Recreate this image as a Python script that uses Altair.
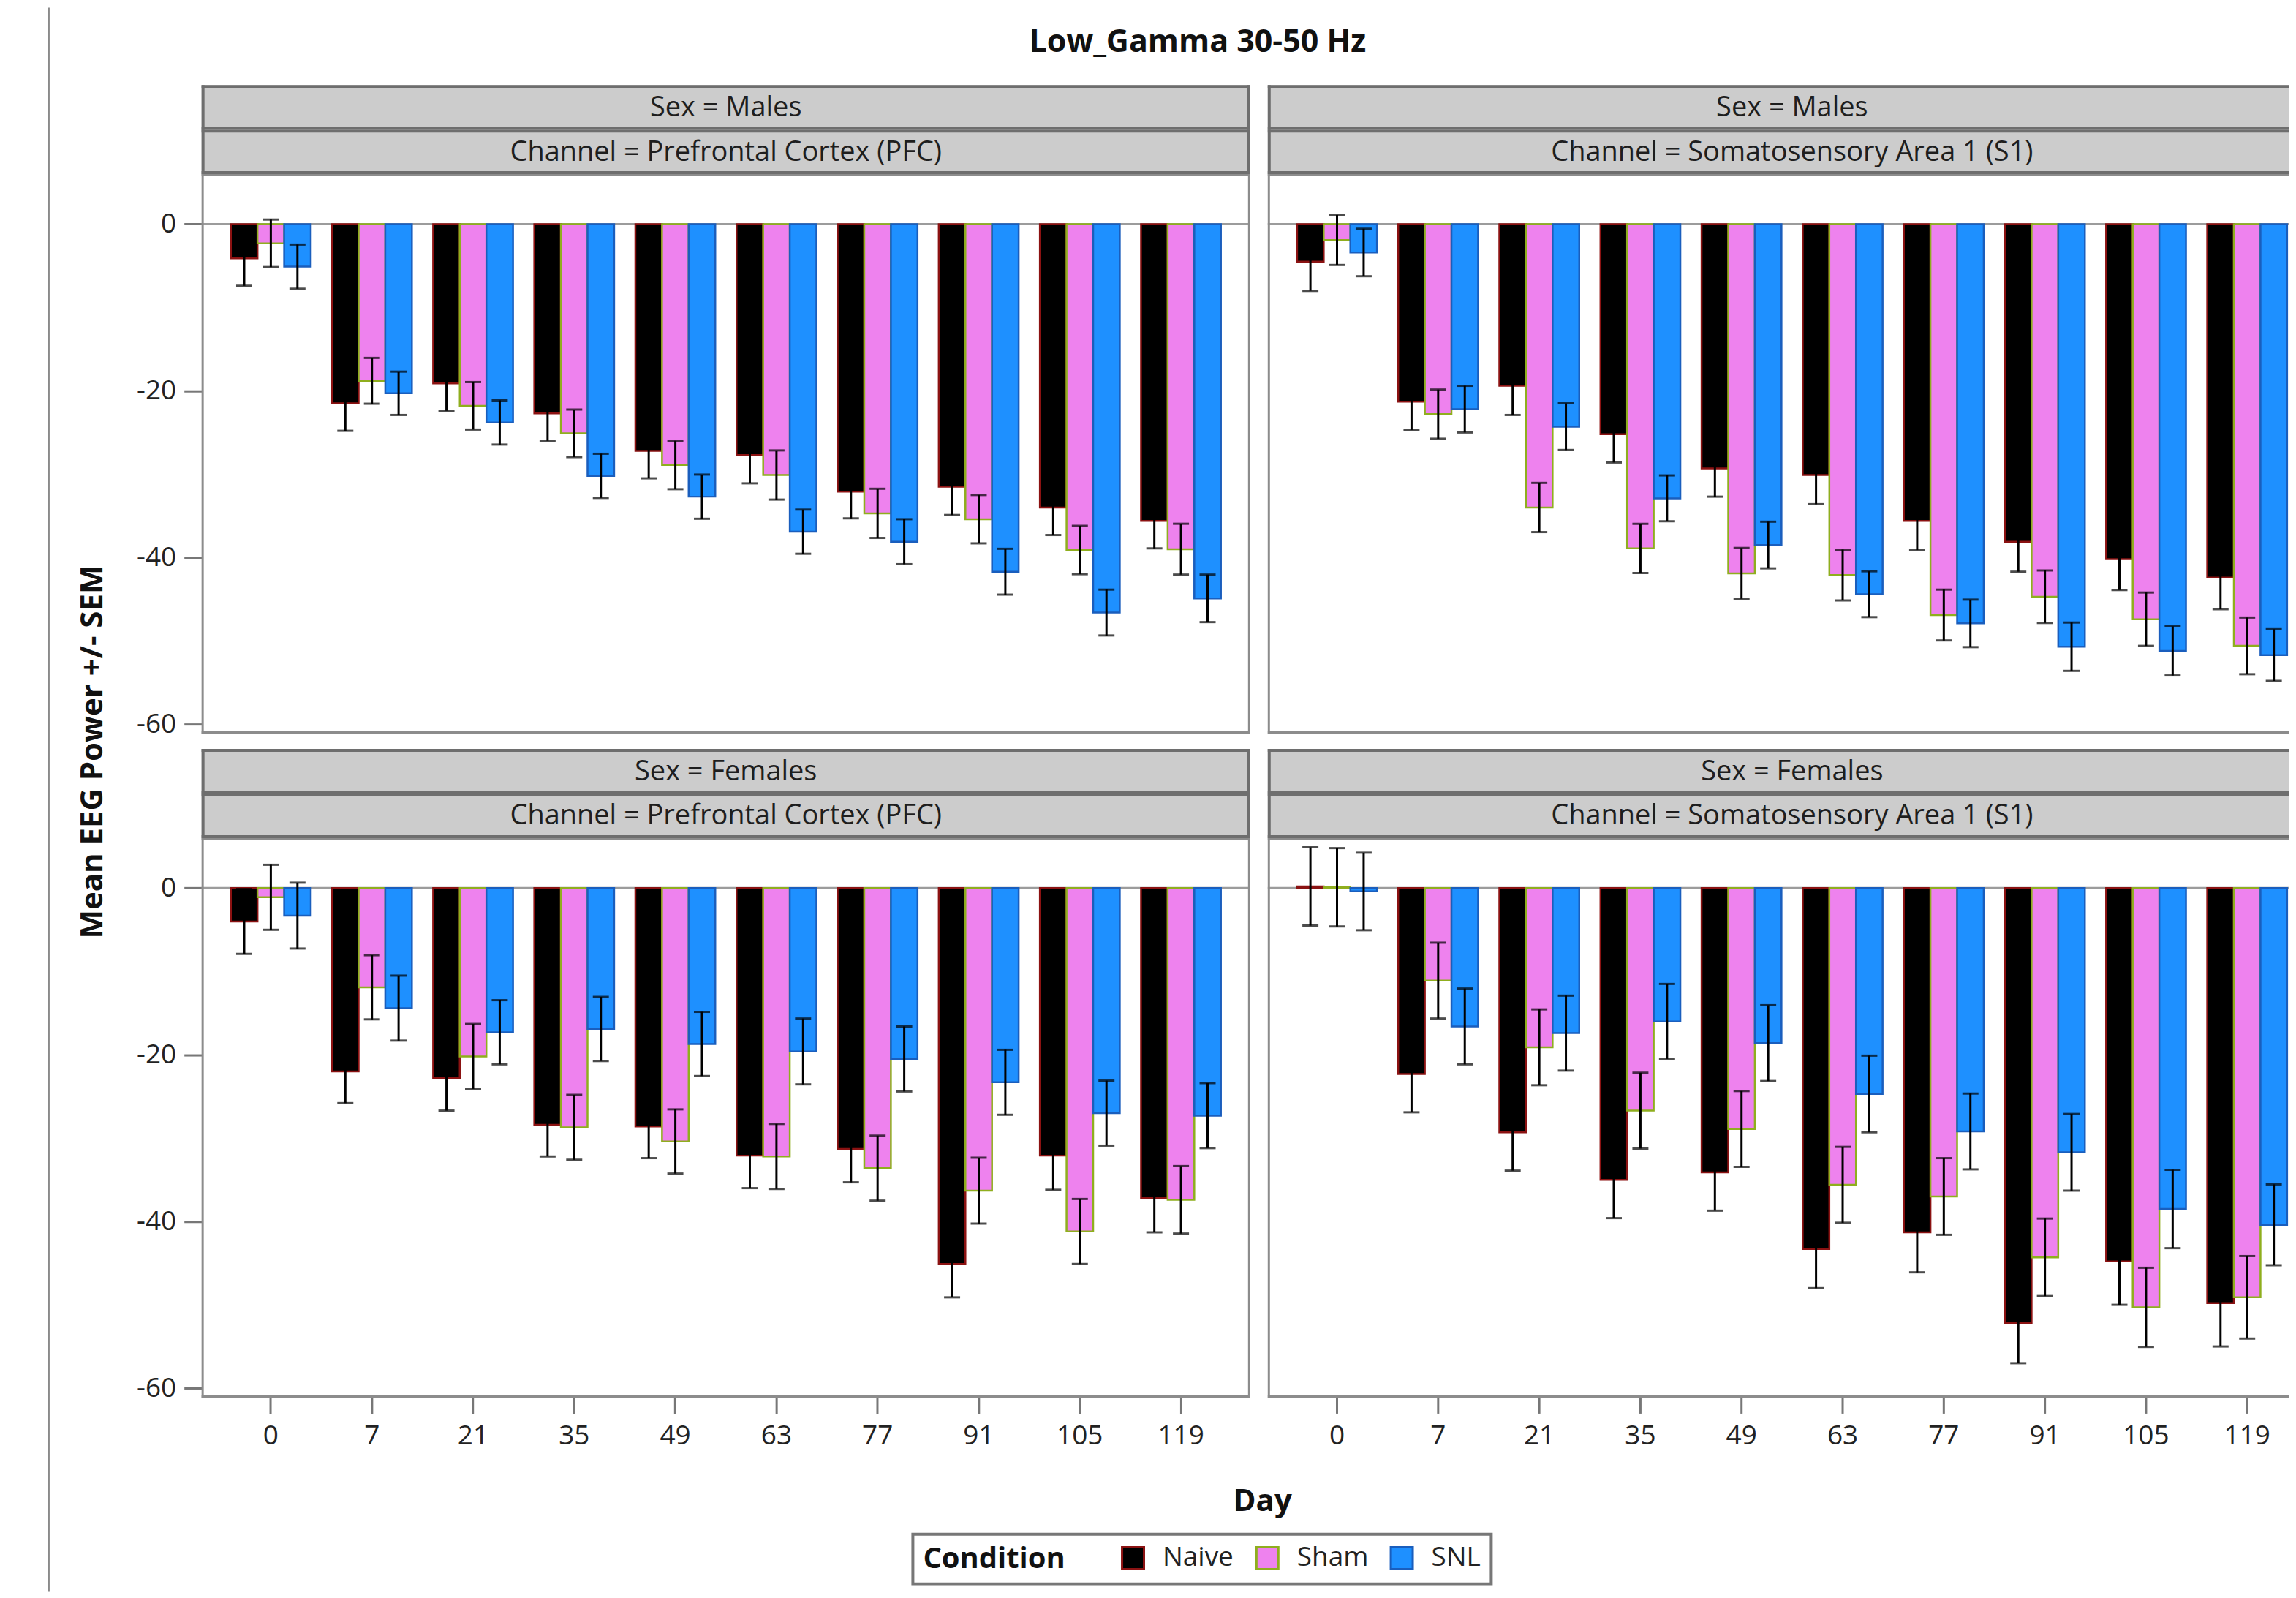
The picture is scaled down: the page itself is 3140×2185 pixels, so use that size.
import altair as alt
import pandas as pd

days = [0, 7, 21, 35, 49, 63, 77, 91, 105, 119]
conditions = ["Naive", "Sham", "SNL"]
fill_colors = ["#000000", "#EE82EE", "#1E90FF"]
stroke_colors = ["#8B1212", "#8FAE1E", "#1A5EBD"]

# Males, Prefrontal Cortex (PFC)
m_pfc_naive = [-4.1, -21.5, -19.1, -22.7, -27.2, -27.7, -32.1, -31.5, -34.0, -35.6]
m_pfc_naive_sem = [3.3, 3.3, 3.3, 3.3, 3.3, 3.4, 3.2, 3.4, 3.3, 3.3]
m_pfc_sham = [-2.3, -18.8, -21.8, -25.1, -28.9, -30.1, -34.7, -35.4, -39.1, -39.0]
m_pfc_sham_sem = [2.85, 2.75, 2.85, 2.85, 2.9, 2.95, 2.95, 2.9, 2.9, 3.05]
m_pfc_snl = [-5.1, -20.3, -23.8, -30.2, -32.7, -36.9, -38.1, -41.7, -46.6, -44.9]
m_pfc_snl_sem = [2.65, 2.6, 2.65, 2.65, 2.65, 2.65, 2.7, 2.75, 2.75, 2.85]

# Males, Somatosensory Area 1 (S1)
m_s1_naive = [-4.5, -21.3, -19.4, -25.2, -29.3, -30.1, -35.6, -38.1, -40.2, -42.4]
m_s1_naive_sem = [3.5, 3.4, 3.5, 3.4, 3.4, 3.5, 3.5, 3.6, 3.7, 3.8]
m_s1_sham = [-1.9, -22.8, -34.0, -38.9, -41.9, -42.1, -46.9, -44.7, -47.4, -50.6]
m_s1_sham_sem = [3.0, 2.95, 2.95, 2.95, 3.05, 3.05, 3.05, 3.15, 3.2, 3.4]
m_s1_snl = [-3.4, -22.2, -24.3, -32.9, -38.5, -44.4, -47.9, -50.7, -51.2, -51.7]
m_s1_snl_sem = [2.85, 2.8, 2.8, 2.75, 2.8, 2.75, 2.85, 2.9, 2.95, 3.1]

# Females, Prefrontal Cortex (PFC)
f_pfc_naive = [-4.0, -22.0, -22.8, -28.4, -28.6, -32.1, -31.3, -45.1, -32.1, -37.2]
f_pfc_naive_sem = [3.9, 3.8, 3.9, 3.8, 3.8, 3.9, 4.0, 4.0, 4.1, 4.1]
f_pfc_sham = [-1.1, -11.9, -20.2, -28.7, -30.4, -32.2, -33.6, -36.3, -41.2, -37.4]
f_pfc_sham_sem = [3.9, 3.85, 3.9, 3.9, 3.85, 3.9, 3.9, 3.95, 3.9, 4.05]
f_pfc_snl = [-3.3, -14.4, -17.3, -16.9, -18.7, -19.6, -20.5, -23.3, -27.0, -27.3]
f_pfc_snl_sem = [3.95, 3.9, 3.85, 3.85, 3.85, 3.95, 3.9, 3.9, 3.9, 3.9]

# Females, Somatosensory Area 1 (S1)
f_s1_naive = [0.2, -22.3, -29.3, -35.0, -34.1, -43.3, -41.3, -52.2, -44.8, -49.8]
f_s1_naive_sem = [4.7, 4.6, 4.6, 4.6, 4.6, 4.7, 4.8, 4.8, 5.2, 5.2]
f_s1_sham = [0.1, -11.1, -19.1, -26.7, -28.9, -35.6, -37.0, -44.3, -50.3, -49.1]
f_s1_sham_sem = [4.7, 4.55, 4.55, 4.55, 4.55, 4.55, 4.6, 4.65, 4.75, 4.95]
f_s1_snl = [-0.4, -16.6, -17.4, -16.0, -18.6, -24.7, -29.2, -31.7, -38.5, -40.4]
f_s1_snl_sem = [4.65, 4.55, 4.5, 4.5, 4.55, 4.6, 4.55, 4.6, 4.7, 4.85]

chart_title = "Low_Gamma 30-50 Hz"

FONT = "Open Sans"
W, H, SH = 1436, 766, 61     # full panel width, plot height, strip height
COL_GAP = 20
W_CUT = 1398                 # right-hand panels are cut off by the picture edge
ONE = pd.DataFrame({"k": [0]})
TICK_LEN, LABEL_PAD, LABEL_SIZE = 22, 13, 37


def border(vw, vh, color, sw, right):
    h = sw / 2
    r = alt.Chart(ONE).mark_rule(color=color, strokeWidth=sw)
    parts = [
        r.encode(x=alt.value(0), x2=alt.value(vw), y=alt.value(h)),
        r.encode(x=alt.value(0), x2=alt.value(vw), y=alt.value(vh - h)),
        r.encode(x=alt.value(h), y=alt.value(0), y2=alt.value(vh)),
    ]
    if right:
        parts.append(r.encode(x=alt.value(vw - h), y=alt.value(0), y2=alt.value(vh)))
    return parts


def panel_df(series):
    rows = []
    for cond, (means, sems) in zip(conditions, series):
        for d, m, s in zip(days, means, sems):
            rows.append({"Day": d, "Condition": cond, "mean": m, "lo": m - s, "hi": m + s})
    return pd.DataFrame(rows)


def strip(label, vw, right):
    one = alt.Chart(pd.DataFrame({"t": [label]}))
    box = one.mark_rect(fill="#cccccc").encode(
        x=alt.value(0), x2=alt.value(vw), y=alt.value(0), y2=alt.value(SH)
    )
    txt = one.mark_text(font=FONT, fontSize=38, color="#1e1e1e").encode(
        text="t:N", x=alt.value(W / 2), y=alt.value(SH / 2 + 1)
    )
    return alt.layer(box, *border(vw, SH, "#6e6e6e", 4, right), txt).properties(width=vw, height=SH)


fill_scale = alt.Scale(domain=conditions, range=fill_colors)
stroke_scale = alt.Scale(domain=conditions, range=stroke_colors)
legend = alt.Legend(
    title="Condition", orient="none", legendX=1183, legendY=2062,
    direction="horizontal", titleOrient="left", titleLimit=400,
)
yscale = alt.Scale(domain=[-61.13, 6.0], nice=False, zero=False)
xscale = alt.Scale(domain=days, range=[0, W], paddingInner=0.21, paddingOuter=0.29)


def plot(df, left, bottom, vw):
    yaxis = alt.Axis(
        values=[0, -20, -40, -60], tickSize=24, tickWidth=3, tickColor="#777777",
        labelFont=FONT, labelFontSize=LABEL_SIZE, labelColor="#222222", labelPadding=11,
        labelExpr="'' + datum.value",
        domain=False, grid=False, title=None,
    ) if left else None
    # the left panel uses a real axis; the cut-off right panel draws the same ticks as marks
    xaxis = alt.Axis(
        values=days, tickSize=TICK_LEN, tickWidth=3, tickColor="#777777", labelAngle=0,
        labelFont=FONT, labelFontSize=LABEL_SIZE, labelColor="#222222", labelPadding=LABEL_PAD,
        domain=False, grid=False, title=None,
    ) if (bottom and left) else None
    x = alt.X("Day:O", scale=xscale, axis=xaxis, title=None)
    xo = alt.XOffset("Condition:N", scale=alt.Scale(domain=conditions, paddingInner=0, paddingOuter=0))
    base = alt.Chart(df)
    zero = alt.Chart(pd.DataFrame({"z": [0]})).mark_rule(color="#9c9c9c", strokeWidth=3).encode(
        y=alt.Y("z:Q", scale=yscale, axis=yaxis, title=None)
    )
    bars = base.mark_bar(strokeWidth=2.5).encode(
        x=x, xOffset=xo,
        y=alt.Y("mean:Q", scale=yscale, axis=yaxis, title=None),
        fill=alt.Fill("Condition:N", scale=fill_scale, legend=legend),
        stroke=alt.Stroke("Condition:N", scale=stroke_scale, legend=legend),
    )
    err = base.mark_rule(color="black", strokeWidth=3).encode(
        x=x, xOffset=xo,
        y=alt.Y("lo:Q", scale=yscale, axis=yaxis, title=None), y2="hi:Q",
    )
    cap_lo = base.mark_tick(color="black", thickness=3, size=22).encode(
        x=x, xOffset=xo, y=alt.Y("lo:Q", scale=yscale, axis=yaxis, title=None)
    )
    cap_hi = base.mark_tick(color="black", thickness=3, size=22).encode(
        x=x, xOffset=xo, y=alt.Y("hi:Q", scale=yscale, axis=yaxis, title=None)
    )
    layers = [zero, bars, err, cap_lo, cap_hi, *border(vw, H, "#8c8c8c", 3, left)]
    if bottom and not left:
        tick_src = alt.Chart(pd.DataFrame({"Day": days}))
        layers.append(tick_src.mark_rule(color="#777777", strokeWidth=3).encode(
            x=alt.X("Day:O", scale=xscale, axis=None, title=None),
            y=alt.value(H), y2=alt.value(H + TICK_LEN),
        ))
        layers.append(tick_src.mark_text(
            font=FONT, fontSize=LABEL_SIZE, color="#222222", baseline="top"
        ).encode(
            x=alt.X("Day:O", scale=xscale, axis=None, title=None),
            y=alt.value(H + TICK_LEN + LABEL_PAD), text="Day:N",
        ))
    return alt.layer(*layers).properties(width=vw, height=H)


def panel(sex, channel, series, left, bottom):
    vw = W if left else W_CUT
    return alt.vconcat(
        strip(f"Sex = {sex}", vw, left),
        strip(f"Channel = {channel}", vw, left),
        plot(panel_df(series), left, bottom, vw),
        spacing=0, bounds="flush",
    )


p11 = panel("Males", "Prefrontal Cortex (PFC)",
            [(m_pfc_naive, m_pfc_naive_sem), (m_pfc_sham, m_pfc_sham_sem), (m_pfc_snl, m_pfc_snl_sem)],
            True, False)
p12 = panel("Males", "Somatosensory Area 1 (S1)",
            [(m_s1_naive, m_s1_naive_sem), (m_s1_sham, m_s1_sham_sem), (m_s1_snl, m_s1_snl_sem)],
            False, False)
p21 = panel("Females", "Prefrontal Cortex (PFC)",
            [(f_pfc_naive, f_pfc_naive_sem), (f_pfc_sham, f_pfc_sham_sem), (f_pfc_snl, f_pfc_snl_sem)],
            True, True)
p22 = panel("Females", "Somatosensory Area 1 (S1)",
            [(f_s1_naive, f_s1_naive_sem), (f_s1_sham, f_s1_sham_sem), (f_s1_snl, f_s1_snl_sem)],
            False, True)

grid = alt.vconcat(
    alt.hconcat(p11, p12, spacing=COL_GAP),
    alt.hconcat(p21, p22, spacing=COL_GAP),
    spacing=13,
).properties(
    title=alt.TitleParams("Mean EEG Power +/- SEM", orient="left", font=FONT, fontSize=42,
                          fontWeight="bold", color="#111111", offset=38, anchor="middle", dx=20)
)

with_day = alt.vconcat(grid).properties(
    title=alt.TitleParams("Day", orient="bottom", font=FONT, fontSize=42, fontWeight="bold",
                          color="#111111", offset=51, anchor="middle", dx=108)
)

title_chart = alt.Chart(pd.DataFrame({"t": [chart_title]})).mark_text(
    font=FONT, fontSize=43, fontWeight="bold", color="#111111"
).encode(
    text="t:N", x=alt.value(1364), y=alt.value(20)
).properties(width=W, height=40)

with_main = alt.vconcat(title_chart, with_day, spacing=34)

frame_line = alt.Chart(ONE).mark_rule(color="#8a8a8a", strokeWidth=2).encode(
    x=alt.value(0), y=alt.value(-28), y2=alt.value(2141)
).properties(width=1, height=100)

chart = alt.hconcat(frame_line, with_main, spacing=37).resolve_scale(
    fill="shared", stroke="shared"
).properties(
    padding={"left": 58, "top": 0, "right": 0, "bottom": 0}
).configure(
    font=FONT
).configure_view(
    strokeOpacity=0
).configure_legend(
    titleFont=FONT, titleFontSize=40, titleFontWeight="bold", titleColor="#111111",
    titlePadding=74, labelFont=FONT, labelFontSize=37, labelColor="#222222",
    labelOffset=22, symbolType="square", symbolSize=900, symbolStrokeWidth=3,
    columnPadding=24, padding=14, strokeColor="#777777", strokeWidth=4, fillColor="white",
)

chart.save("out.html", embed_options={"renderer": "svg", "actions": False})
